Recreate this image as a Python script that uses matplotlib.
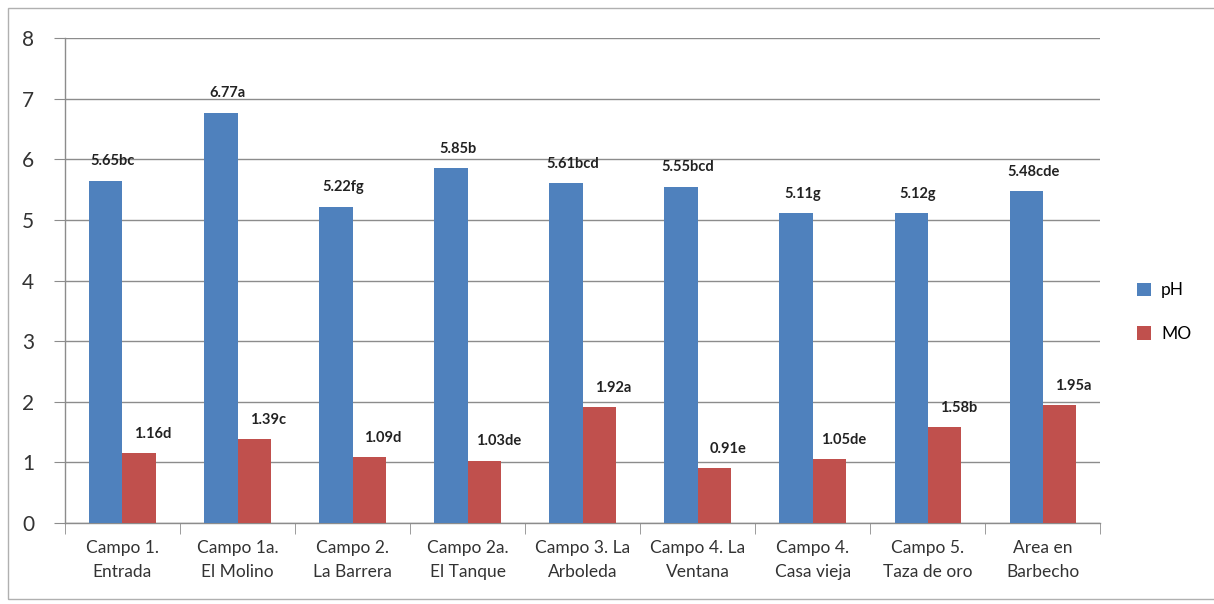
import numpy as np
import matplotlib
matplotlib.use("Agg")
import matplotlib.pyplot as plt
from matplotlib.patches import Rectangle

plt.rcParams["font.family"] = ["Lato", "DejaVu Sans"]

campos = ["Campo 1.\nEntrada", "Campo 1a.\nEl Molino", "Campo 2.\nLa Barrera",
          "Campo 2a.\nEl Tanque", "Campo 3. La\nArboleda", "Campo 4. La\nVentana",
          "Campo 4.\nCasa vieja", "Campo 5.\nTaza de oro", "Area en\nBarbecho"]
ph = [5.65, 6.77, 5.22, 5.85, 5.61, 5.55, 5.11, 5.12, 5.48]
ph_letras = ["bc", "a", "fg", "b", "bcd", "bcd", "g", "g", "cde"]
mo = [1.16, 1.39, 1.09, 1.03, 1.92, 0.91, 1.05, 1.58, 1.95]
mo_letras = ["d", "c", "d", "de", "a", "e", "de", "b", "a"]

AZUL = "#4F81BD"
ROJO = "#C0504D"
GRIS = "#8c8c8c"

fig = plt.figure(figsize=(12.14, 6.04), dpi=100)
ax = fig.add_axes([0.0535, 0.134, 0.853, 0.803])

x = np.arange(len(campos))
w = 0.29
ax.bar(x - w / 2, ph, w, color=AZUL, label="pH", zorder=3)
ax.bar(x + w / 2, mo, w, color=ROJO, label="MO", zorder=3)

# etiquetas de valor + letra de significancia
for xi, v, l in zip(x, ph, ph_letras):
    ax.text(xi - w / 2 + 0.06, v + 0.2, f"{v:.2f}{l}", ha="center", va="bottom",
            fontsize=10.5, fontweight="bold", color="#222222")
for xi, v, l in zip(x, mo, mo_letras):
    ax.text(xi + w / 2 + 0.12, v + 0.2, f"{v:.2f}{l}", ha="center", va="bottom",
            fontsize=10.5, fontweight="bold", color="#222222")

ax.set_xlim(-0.5, len(campos) - 0.5)
ax.set_ylim(0, 8)
ax.set_yticks(range(0, 9))
ax.yaxis.grid(True, color=GRIS, linewidth=1.0, zorder=0)
ax.tick_params(axis="y", length=8, color=GRIS, labelsize=15, pad=14, labelcolor="#333333")

ax.set_xticks(x)
ax.set_xticklabels(campos, fontsize=12.5, color="#333333", linespacing=1.65)
ax.set_xticks(np.arange(-0.5, len(campos)), minor=True)
ax.tick_params(axis="x", which="major", length=0, pad=12)
ax.tick_params(axis="x", which="minor", length=8, color=GRIS)

for s in ["top", "right"]:
    ax.spines[s].set_visible(False)
for s in ["left", "bottom"]:
    ax.spines[s].set_color(GRIS)
    ax.spines[s].set_linewidth(1.0)

ax.legend(loc="center left", bbox_to_anchor=(1.02, 0.435), frameon=False,
          fontsize=12.5, handlelength=0.8, handleheight=0.8, labelspacing=1.6,
          handletextpad=0.6)

fig.patches.append(Rectangle((0.007, 0.008), 1.2, 0.978, transform=fig.transFigure,
                             fill=False, edgecolor="#b0b0b0", linewidth=1.0))

fig.savefig("out.png", dpi=100)
